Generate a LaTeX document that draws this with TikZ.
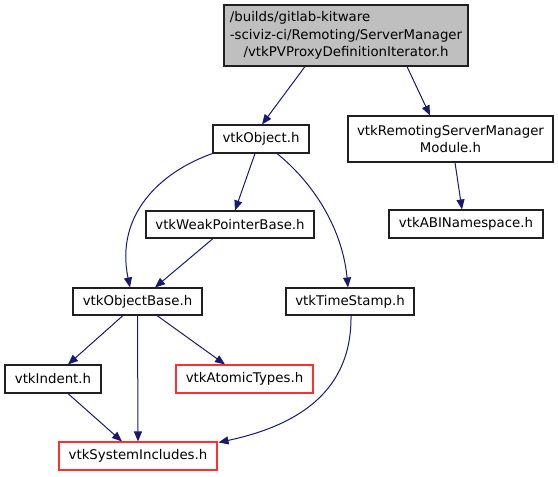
\documentclass[tikz,border=0pt]{standalone}
\usepackage{fontspec}
\setmainfont{DejaVu Sans}
\usetikzlibrary{arrows.meta,calc}
\definecolor{edgeblue}{HTML}{191970}
\definecolor{topgray}{HTML}{BFBFBF}
\definecolor{missred}{HTML}{FF3030}
\definecolor{boxline}{HTML}{202020}
\tikzset{
  filebox/.style={draw=boxline, line width=0.8pt, inner sep=0pt, align=center,
    font=\fontsize{10}{12.5}\selectfont},
  redbox/.style={filebox, draw=missred},
  dep/.style={draw=edgeblue, line width=0.75pt,
    -{Triangle[length=7.5pt,width=6pt]}, edgeblue},
}
\begin{document}
\begin{tikzpicture}[x=0.75pt,y=-0.75pt]
\useasboundingbox (0,0) rectangle (558,476);
\node[filebox, fill=topgray, minimum width=244*0.75pt, minimum height=61*0.75pt,
  font=\fontsize{10}{13.2}\selectfont] (top) at (346,35.5)
  {\rlap{/builds/gitlab-kitware}\phantom{-sciviz-ci/Remoting/ServerManager}\\-sciviz-ci/Remoting/ServerManager\\/vtkPVProxyDefinitionIterator.h};
\node[filebox, minimum width=96*0.75pt, minimum height=28*0.75pt] (obj) at (261,139) {vtkObject.h};
\node[filebox, minimum width=205*0.75pt, minimum height=46*0.75pt] (rsm) at (450.5,139) {vtkRemotingServerManager\\Module.h};
\node[filebox, minimum width=154*0.75pt, minimum height=28*0.75pt] (abi) at (466,224) {vtkABINamespace.h};
\node[filebox, minimum width=168*0.75pt, minimum height=27*0.75pt] (weak) at (230,224.5) {vtkWeakPointerBase.h};
\node[filebox, minimum width=129*0.75pt, minimum height=27*0.75pt] (ob) at (137.5,301.5) {vtkObjectBase.h};
\node[filebox, minimum width=128*0.75pt, minimum height=27*0.75pt] (ts) at (350,301.5) {vtkTimeStamp.h};
\node[filebox, minimum width=96*0.75pt, minimum height=28*0.75pt] (ind) at (53,379) {vtkIndent.h};
\node[redbox, minimum width=137*0.75pt, minimum height=28*0.75pt] (atom) at (244.5,379) {vtkAtomicTypes.h};
\node[redbox, minimum width=158*0.75pt, minimum height=28*0.75pt] (sys) at (138,456) {vtkSystemIncludes.h};

\draw[dep] ($(top.south)+(-41,0)$) -- ($(obj.north)+(1,0)$);
\draw[dep] ($(top.south)+(61,0)$) -- ($(rsm.north)+(-20.5,0)$);
\draw[dep] ($(rsm.south)+(4.5,0)$) -- ($(abi.north)+(-4,0)$);
\draw[dep] ($(obj.south)+(-6,0)$) -- ($(weak.north)+(5,0)$);
\draw[dep] (obj.south west) .. controls (160,172) and (115,215) .. ($(ob.north)+(-7.5,0)$);
\draw[dep] ($(obj.south)+(16,0)$) .. controls (310,180) and (342,225) .. ($(ts.north)+(-2,0)$);
\draw[dep] ($(weak.south)+(-17,0)$) -- ($(ob.north)+(17.5,0)$);
\draw[dep] ($(ob.south)+(-14.5,0)$) -- ($(ind.north)+(15,0)$);
\draw[dep] (ob.south) -- (sys.north);
\draw[dep] ($(ob.south)+(19.5,0)$) -- ($(atom.north)+(-19.5,0)$);
\draw[dep] ($(ind.south)+(15,0)$) -- ($(sys.north)+(-16,0)$);
\draw[dep] ($(ts.south)+(1,0)$) .. controls (352,390) and (300,425) .. ($(sys.north east)+(1,1)$);
\end{tikzpicture}
\end{document}
